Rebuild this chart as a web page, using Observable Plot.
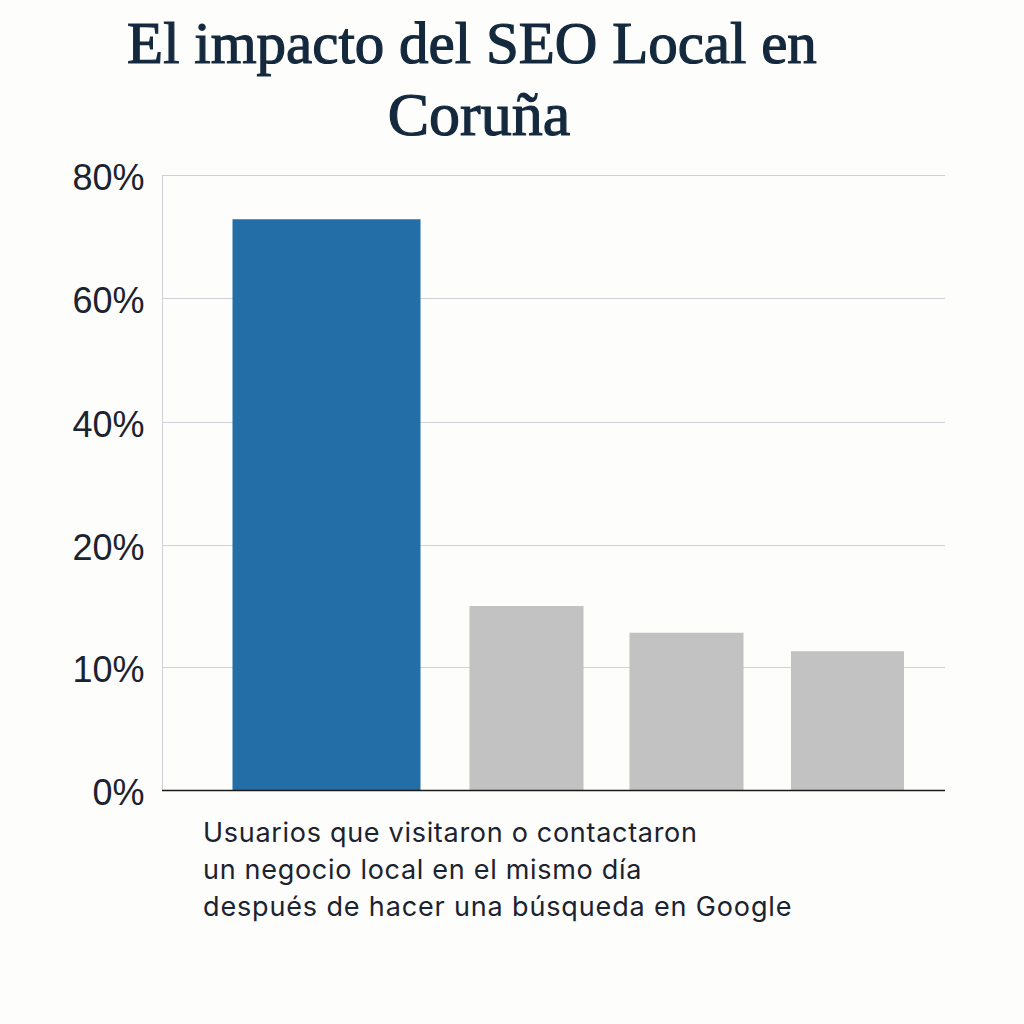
<!DOCTYPE html>
<html>
<head>
<meta charset="utf-8">
<script src="https://cdn.jsdelivr.net/npm/d3@7"></script>
<script src="https://cdn.jsdelivr.net/npm/@observablehq/plot@0.6"></script>
<style>
  html, body { margin: 0; background: #fdfdfb; }
  #titulo { position: absolute; left: 72px; top: 8px; width: 800px; margin: 0; text-align: center;
    font: 400 59px/71px "Liberation Serif", serif; color: #14293d; -webkit-text-stroke: 1.2px #14293d; }
  #titulo span { position: relative; left: 7px; font-size: 62px; }
  #chart { position: absolute; left: 0; top: 150px; }
  #pie { position: absolute; left: 203px; top: 814px; margin: 0; letter-spacing: 0.7px;
    font: 400 27px/37px Inter, sans-serif; color: #1b2230; }
  #pie span { letter-spacing: 0.85px; }
</style>
</head>
<body>
<h1 id="titulo">El impacto del SEO Local en<br><span>Coruña</span></h1>
<div id="chart"></div>
<p id="pie">Usuarios que visitaron o contactaron<br>un negocio local en el mismo día<br><span>después de hacer una búsqueda en Google</span></p>
<script>
const posiciones = [0, 1, 2, 3];
const valores = [72.8, 15, 12.8, 11.3];
const anchos = [188, 114, 114, 113];
const colores = ['#236ea6', '#c2c2c2', '#c2c2c2', '#c2c2c2'];
const ticks = [0, 10, 20, 40, 60, 80];

const datos = posiciones.map((p, i) => ({pos: p, valor: valores[i], ancho: anchos[i], color: colores[i]}));

const chart = Plot.plot({
  width: 1024,
  height: 690,
  marginLeft: 162,
  marginRight: 79,
  marginTop: 25,
  marginBottom: 50,
  style: {background: 'transparent', fontFamily: '"Liberation Sans", sans-serif'},
  x: {type: 'linear', domain: posiciones, range: [326, 526, 686, 847], axis: null},
  y: {
    type: 'linear',
    domain: ticks,
    range: [640, 517, 395, 272, 148, 25],
    axis: null
  },
  marks: [
    Plot.frame({anchor: 'left', stroke: '#cfd0d4'}),
    Plot.ruleY(ticks.filter(t => t > 0), {stroke: '#d0d1d6', strokeOpacity: 1}),
    Plot.ruleX(datos, {x: 'pos', y1: 0, y2: 'valor', stroke: 'color', strokeWidth: 'ancho'}),
    Plot.ruleY([0], {stroke: '#1a1a1a', strokeWidth: 1.3}),
    Plot.axisY(ticks, {
      anchor: 'left',
      tickSize: 0,
      tickPadding: 18,
      tickFormat: d => d + '%',
      fontSize: 36,
      fill: '#1b2230',
      dy: 3,
      label: null
    })
  ]
});
d3.select('#chart').append(() => chart);
</script>
</body>
</html>
